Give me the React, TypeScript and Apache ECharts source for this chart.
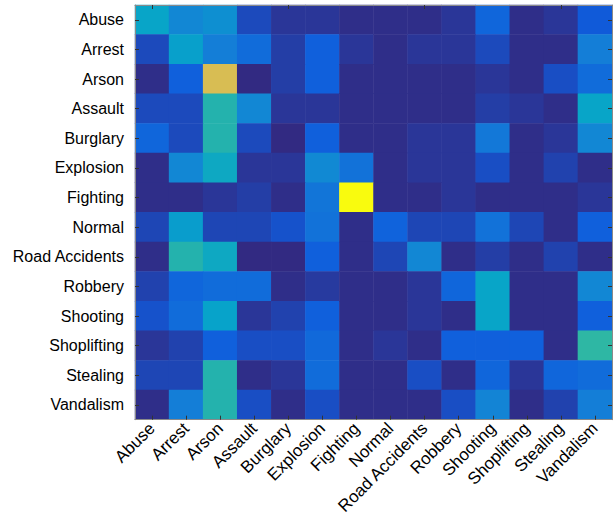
import React, { useEffect, useRef } from "react";
import * as echarts from "echarts";

const categories = [
  "Abuse", "Arrest", "Arson", "Assault", "Burglary", "Explosion", "Fighting",
  "Normal", "Road Accidents", "Robbery", "Shooting", "Shoplifting", "Stealing", "Vandalism",
];

// rows: true class (top to bottom), columns: predicted class (left to right)
const rowAbuse = [0.38, 0.27, 0.3, 0.08, 0.03, 0.03, 0.01, 0.01, 0.01, 0.03, 0.16, 0.01, 0.03, 0.12];
const rowArrest = [0.08, 0.36, 0.24, 0.18, 0.05, 0.14, 0.03, 0.01, 0.03, 0.03, 0.08, 0.01, 0.01, 0.24];
const rowArson = [0.01, 0.14, 0.77, 0.0, 0.05, 0.14, 0.01, 0.01, 0.01, 0.01, 0.03, 0.01, 0.09, 0.18];
const rowAssault = [0.08, 0.08, 0.47, 0.27, 0.03, 0.03, 0.01, 0.01, 0.01, 0.01, 0.05, 0.03, 0.01, 0.38];
const rowBurglary = [0.16, 0.08, 0.47, 0.08, 0.0, 0.14, 0.01, 0.01, 0.03, 0.03, 0.22, 0.01, 0.03, 0.27];
const rowExplosion = [0.01, 0.27, 0.4, 0.03, 0.03, 0.28, 0.2, 0.01, 0.03, 0.03, 0.09, 0.01, 0.06, 0.01];
const rowFighting = [0.01, 0.01, 0.03, 0.05, 0.01, 0.21, 1.0, 0.01, 0.01, 0.03, 0.01, 0.01, 0.01, 0.03];
const rowNormal = [0.07, 0.35, 0.07, 0.07, 0.1, 0.2, 0.01, 0.15, 0.07, 0.07, 0.2, 0.07, 0.01, 0.14];
const rowRoadAccidents = [0.01, 0.47, 0.4, 0.0, 0.0, 0.14, 0.01, 0.07, 0.27, 0.01, 0.05, 0.01, 0.06, 0.01];
const rowRobbery = [0.06, 0.16, 0.18, 0.18, 0.01, 0.04, 0.01, 0.01, 0.03, 0.16, 0.38, 0.01, 0.01, 0.27];
const rowShooting = [0.1, 0.18, 0.37, 0.03, 0.06, 0.14, 0.01, 0.01, 0.03, 0.01, 0.38, 0.01, 0.01, 0.14];
const rowShoplifting = [0.03, 0.06, 0.14, 0.09, 0.09, 0.17, 0.01, 0.03, 0.01, 0.14, 0.14, 0.14, 0.01, 0.5];
const rowStealing = [0.07, 0.07, 0.47, 0.01, 0.03, 0.18, 0.01, 0.01, 0.09, 0.01, 0.16, 0.03, 0.16, 0.18];
const rowVandalism = [0.01, 0.24, 0.47, 0.09, 0.01, 0.09, 0.01, 0.01, 0.01, 0.09, 0.26, 0.01, 0.06, 0.24];

const matrix = [
  rowAbuse, rowArrest, rowArson, rowAssault, rowBurglary, rowExplosion, rowFighting,
  rowNormal, rowRoadAccidents, rowRobbery, rowShooting, rowShoplifting, rowStealing, rowVandalism,
];

const parula = ["#322a82", "#0f5cdd", "#1481d6", "#06a4ca", "#2eb7a4", "#87bf77", "#d1bb59", "#fec832", "#f9fb0e"];

export default function App() {
  const ref = useRef<HTMLDivElement>(null);
  useEffect(() => {
    if (!ref.current) return;
    const chart = echarts.init(ref.current, null, { renderer: "svg" });
    const data: number[][] = [];
    matrix.forEach((row, r) => row.forEach((v, c) => data.push([c, r, v])));
    const font = "'Liberation Sans', Arial, sans-serif";
    const lineStyle = { color: "#8a8a8a", width: 1 };
    const tick = { show: true, inside: true, alignWithLabel: true, length: 4, lineStyle: { color: "#333" } };
    chart.setOption({
      animation: false,
      grid: { left: 135, top: 5, right: 4, bottom: 97, containLabel: false },
      visualMap: { show: false, min: 0, max: 1, inRange: { color: parula } },
      xAxis: [
        {
          type: "category",
          data: categories,
          position: "bottom",
          axisLine: { show: true, lineStyle },
          axisTick: tick,
          axisLabel: { rotate: 45, fontSize: 17, fontFamily: font, color: "#000", margin: 6, interval: 0 },
          splitLine: { show: false },
          z: 10,
        },
        {
          type: "category",
          data: categories,
          position: "top",
          axisLine: { show: true, lineStyle },
          axisTick: tick,
          axisLabel: { show: false },
          z: 10,
        },
      ],
      yAxis: [
        {
          type: "category",
          data: categories,
          inverse: true,
          position: "left",
          axisLine: { show: true, lineStyle },
          axisTick: tick,
          axisLabel: { fontSize: 16, fontFamily: font, color: "#000", margin: 11, interval: 0 },
          z: 10,
        },
        {
          type: "category",
          data: categories,
          inverse: true,
          position: "right",
          axisLine: { show: true, lineStyle },
          axisTick: tick,
          axisLabel: { show: false },
          z: 10,
        },
      ],
      series: [
        {
          type: "heatmap",
          data,
          xAxisIndex: 0,
          yAxisIndex: 0,
          itemStyle: { borderWidth: 0 },
          emphasis: { disabled: true },
        },
      ],
    });
    return () => chart.dispose();
  }, []);
  return <div ref={ref} style={{ width: 616, height: 518, position: "absolute", left: 0, top: 0 }} />;
}
